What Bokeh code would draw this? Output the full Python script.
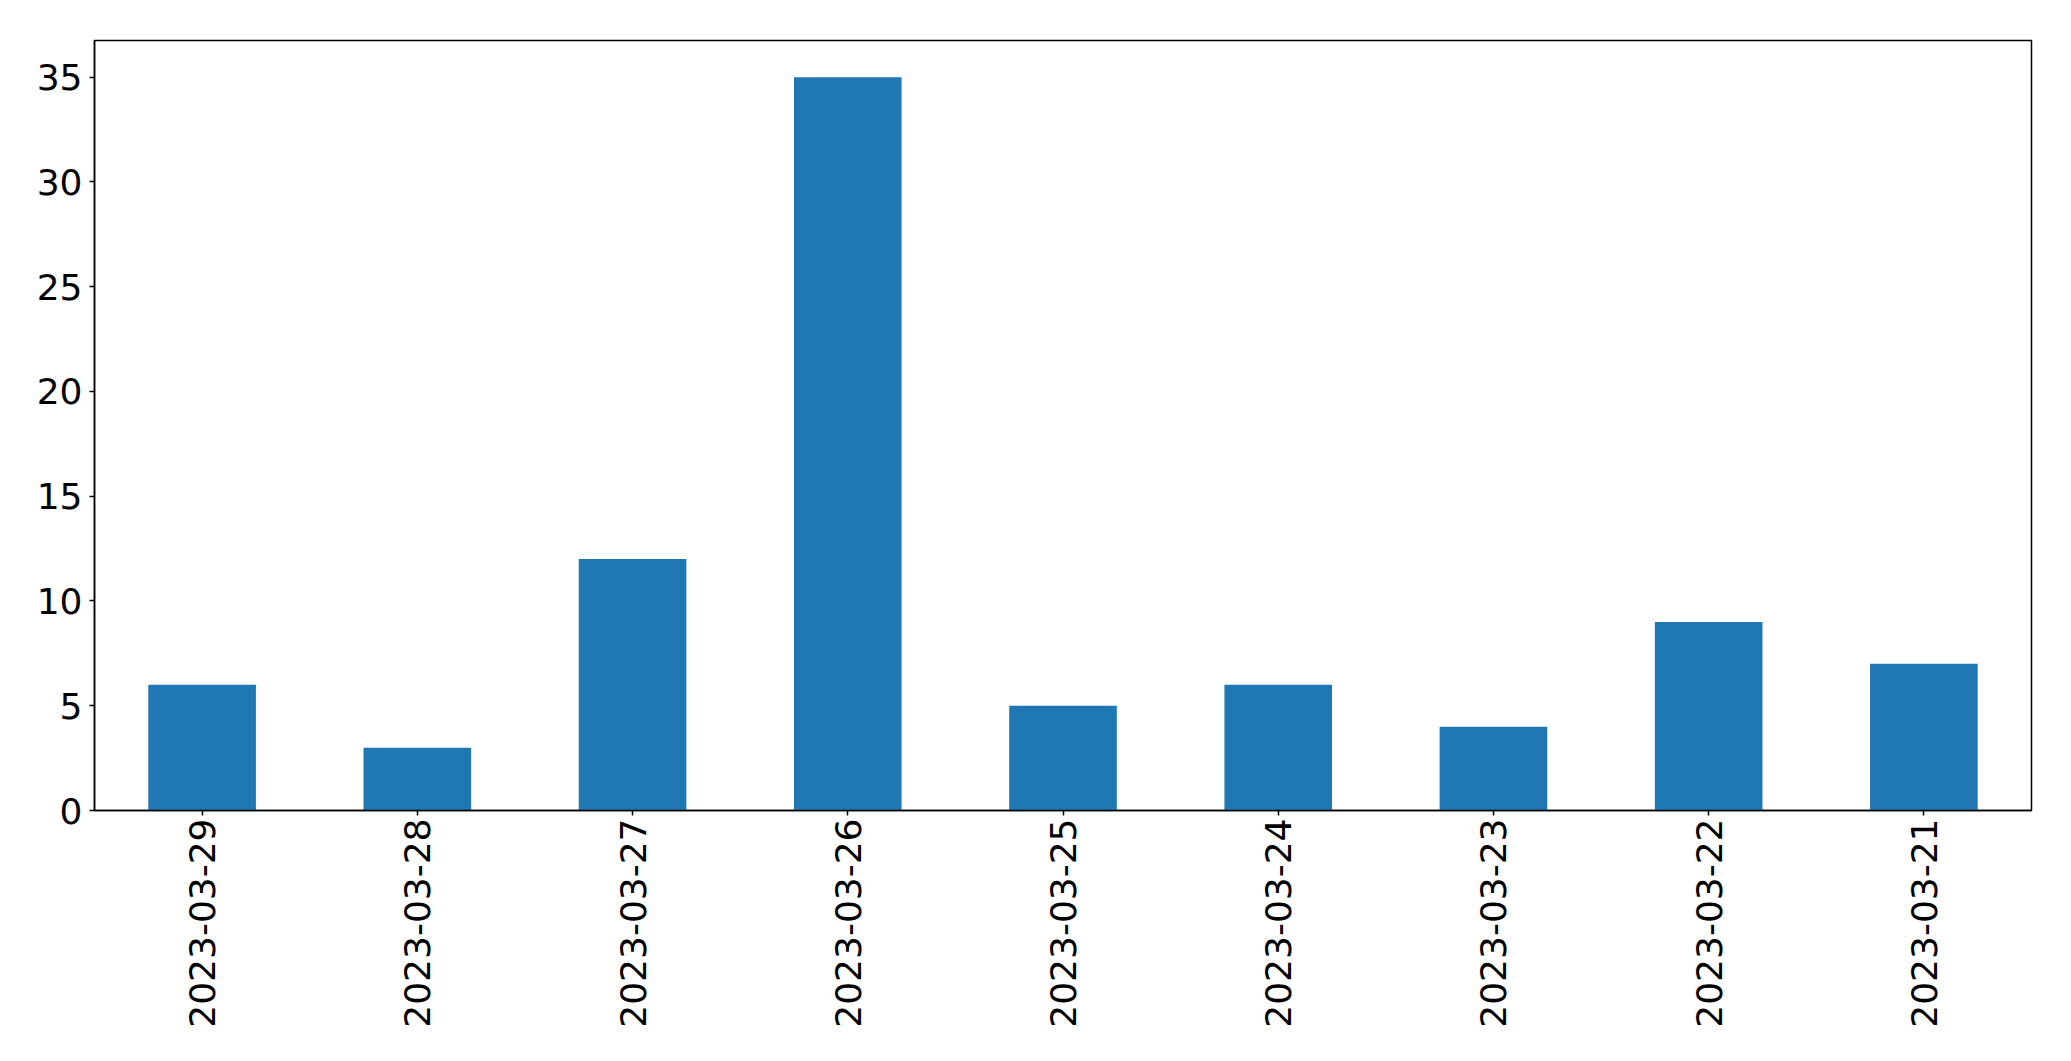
import math
from bokeh.plotting import figure
from bokeh.models import Range1d, FixedTicker, FactorRange
from bokeh.embed import file_html
from bokeh.resources import INLINE

dates = ["2023-03-29", "2023-03-28", "2023-03-27", "2023-03-26", "2023-03-25",
         "2023-03-24", "2023-03-23", "2023-03-22", "2023-03-21"]
counts = [6, 3, 12, 35, 5, 6, 4, 9, 7]
y_ticks = [0, 5, 10, 15, 20, 25, 30, 35]

p = figure(x_range=FactorRange(factors=dates, range_padding=0),
           y_range=Range1d(0, 36.75),
           width=2055, height=1045,
           frame_width=1937, frame_height=770,
           min_border_left=94, min_border_top=40, min_border_right=24, min_border_bottom=235,
           output_backend="svg", toolbar_location=None)

p.vbar(x=dates, top=counts, width=0.5, color="#1f77b4", line_color=None)

p.xgrid.visible = False
p.ygrid.visible = False
p.outline_line_color = "black"
p.outline_line_width = 1.5
p.outline_line_alpha = 1.0

for ax in (p.xaxis[0], p.yaxis[0]):
    ax.axis_line_color = "black"
    ax.axis_line_width = 1.5
    ax.major_tick_line_color = "black"
    ax.major_tick_line_width = 1.5
    ax.major_tick_in = 0
    ax.major_tick_out = 5
    ax.minor_tick_line_color = None
    ax.major_label_text_font = "DejaVu Sans"
    ax.major_label_text_font_size = "36px"
    ax.major_label_text_color = "black"

p.yaxis[0].ticker = FixedTicker(ticks=y_ticks)
p.yaxis[0].major_label_standoff = 7
p.xaxis[0].major_label_orientation = math.pi / 2
p.xaxis[0].major_label_standoff = 3

open("out.html", "w").write(file_html(p, INLINE))
